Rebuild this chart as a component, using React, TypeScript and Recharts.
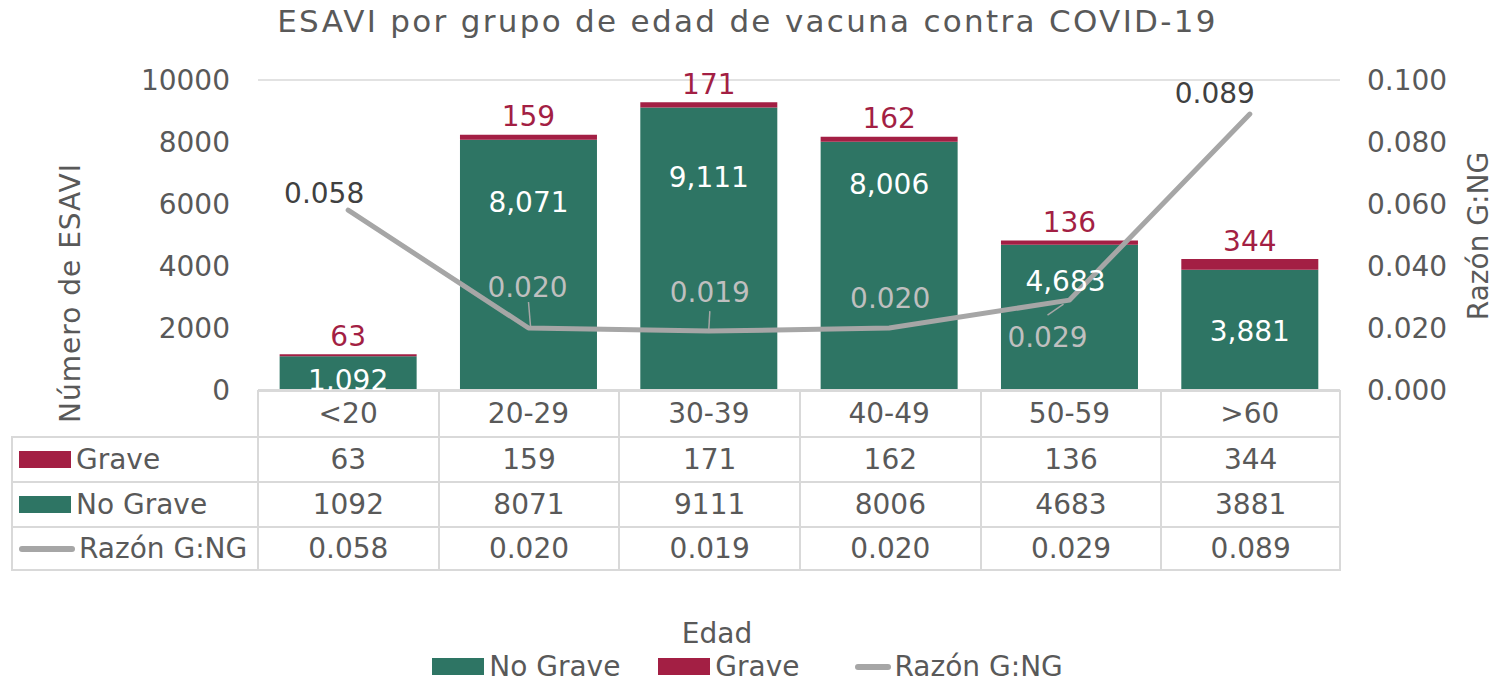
import React from "react";
import {
  ComposedChart, Bar, Line, XAxis, YAxis, CartesianGrid, LabelList,
} from "recharts";

// ── Datos ──────────────────────────────────────────────────────────────────────

const CATEGORIES = ["<20", "20-29", "30-39", "40-49", "50-59", ">60"];
const GRAVE = [63, 159, 171, 162, 136, 344];
const NO_GRAVE = [1092, 8071, 9111, 8006, 4683, 3881];
const RAZON = [0.058, 0.02, 0.019, 0.02, 0.029, 0.089];
const RAZON_TEXT = ["0.058", "0.020", "0.019", "0.020", "0.029", "0.089"];

const Y_TICKS = [0, 2000, 4000, 6000, 8000, 10000];
const Y2_TICKS = [0, 0.02, 0.04, 0.06, 0.08, 0.1];

const data = CATEGORIES.map((cat, i) => ({
  cat,
  grave: GRAVE[i],
  noGrave: NO_GRAVE[i],
  razon: RAZON[i],
}));

// ── Estilos ────────────────────────────────────────────────────────────────────

const FONT = "'DejaVu Sans', sans-serif";
const TEXT = "#595959";
const GREEN = "#2e7564";
const CRIMSON = "#a31f44";
const GRAY = "#a6a6a6";
const GRID = "#d9d9d9";
const FS = 28;

const PLOT_LEFT = 258;
const PLOT_RIGHT = 1340;

// desplazamiento manual de etiquetas (como en el original)
const NG_LABEL_DY = [24, 63, 70, 43, 37, 62];
const NG_LABEL_DX = [0, 0, 0, 0, -4, 0];
const RAZON_LABEL = [
  { dx: -24, dy: -17, dark: true, leader: null },
  { dx: -1, dy: -41, dark: false, leader: [0, -26, 2, -2] },
  { dx: 1, dy: -39, dark: false, leader: [1, -20, 0, -2] },
  { dx: 1, dy: -30, dark: false, leader: null },
  { dx: -22, dy: 37, dark: false, leader: [-22, 15, -6, 4] },
  { dx: -35, dy: -21, dark: true, leader: null },
];

function NoGraveLabel(props: any) {
  const { x, y, width, index, value } = props;
  return (
    <text
      x={x + width / 2 + NG_LABEL_DX[index]}
      y={y + NG_LABEL_DY[index]}
      textAnchor="middle"
      dominantBaseline="central"
      fill="#ffffff"
      fontSize={FS}
      fontFamily={FONT}
    >
      {value.toLocaleString("en-US")}
    </text>
  );
}

function GraveLabel(props: any) {
  const { x, y, width, value } = props;
  return (
    <text
      x={x + width / 2}
      y={y - 18}
      textAnchor="middle"
      dominantBaseline="central"
      fill={CRIMSON}
      fontSize={FS}
      fontFamily={FONT}
    >
      {value}
    </text>
  );
}

function RazonLabel(props: any) {
  const { x, y, index } = props;
  const p = RAZON_LABEL[index];
  return (
    <g>
      {p.leader && (
        <line
          x1={x + p.leader[0]} y1={y + p.leader[1]}
          x2={x + p.leader[2]} y2={y + p.leader[3]}
          stroke={GRAY} strokeWidth={1.5}
        />
      )}
      <text
        x={x + p.dx}
        y={y + p.dy}
        textAnchor="middle"
        dominantBaseline="central"
        fill={p.dark ? "#404040" : "#bfbfbf"}
        fontSize={FS}
        fontFamily={FONT}
      >
        {RAZON_TEXT[index]}
      </text>
    </g>
  );
}

function CatTick(props: any) {
  const { x, y, payload } = props;
  return (
    <text x={x} y={y + 23} textAnchor="middle" dominantBaseline="central"
      fill={TEXT} fontSize={FS} fontFamily={FONT}>
      {payload.value}
    </text>
  );
}

// ── Tabla de datos ─────────────────────────────────────────────────────────────

const BORDER = `2px solid ${GRID}`;

function Swatch({ kind }: { kind: "grave" | "noGrave" | "razon" }) {
  if (kind === "razon") {
    return <span style={{ display: "inline-block", width: 56, height: 6, borderRadius: 3, background: GRAY, marginRight: 4 }} />;
  }
  return (
    <span style={{
      display: "inline-block", width: 52, height: 17, marginRight: 5,
      background: kind === "grave" ? CRIMSON : GREEN,
    }} />
  );
}

function DataTable() {
  const rows: { kind: "grave" | "noGrave" | "razon"; label: string; values: string[] }[] = [
    { kind: "grave", label: "Grave", values: GRAVE.map(String) },
    { kind: "noGrave", label: "No Grave", values: NO_GRAVE.map(String) },
    { kind: "razon", label: "Razón G:NG", values: RAZON_TEXT },
  ];
  const cell = (extra: React.CSSProperties): React.CSSProperties => ({
    boxSizing: "border-box",
    height: 45,
    display: "flex",
    alignItems: "center",
    justifyContent: "center",
    borderTop: BORDER,
    borderLeft: BORDER,
    ...extra,
  });
  return (
    <div style={{
      position: "absolute", left: 11, top: 390, width: PLOT_RIGHT + 1 - 11,
      display: "grid", gridTemplateColumns: `${PLOT_LEFT - 1 - 11}px repeat(6, 1fr)`,
      fontFamily: FONT, fontSize: FS, color: TEXT,
    }}>
      <div style={{ height: 46 }} />
      {CATEGORIES.map((c, i) => (
        <div key={c} style={cell({ height: 46, borderRight: i === 5 ? BORDER : undefined })} />
      ))}
      {rows.map((r, ri) => (
        <React.Fragment key={r.label}>
          <div style={cell({
            justifyContent: "flex-start", paddingLeft: 6, whiteSpace: "nowrap",
            borderBottom: ri === 2 ? BORDER : undefined,
          })}>
            <Swatch kind={r.kind} />
            {r.label}
          </div>
          {r.values.map((v, i) => (
            <div key={i} style={cell({
              borderRight: i === 5 ? BORDER : undefined,
              borderBottom: ri === 2 ? BORDER : undefined,
            })}>{v}</div>
          ))}
        </React.Fragment>
      ))}
    </div>
  );
}

// ── Componente principal ───────────────────────────────────────────────────────

export default function App() {
  return (
    <div style={{ position: "absolute", left: 0, top: 0, width: 1495, height: 683, background: "#fff", overflow: "hidden", fontFamily: FONT }}>
      <div style={{
        position: "absolute", left: 0, width: 1495, top: 3, textAlign: "center",
        fontSize: 31, letterSpacing: 2.3, color: TEXT,
      }}>
        ESAVI por grupo de edad de vacuna contra COVID-19
      </div>

      <div style={{ position: "absolute", left: 0, top: 0 }}>
        <ComposedChart
          width={1495}
          height={683}
          data={data}
          margin={{ top: 80, right: 55, bottom: 247, left: 158 }}
          barCategoryGap="12%"
        >
          <CartesianGrid vertical={false} stroke={GRID} strokeWidth={1.5} />
          <XAxis
            dataKey="cat"
            height={46}
            tickLine={false}
            tickSize={0}
            tickMargin={0}
            axisLine={{ stroke: GRID, strokeWidth: 2 }}
            tick={<CatTick />}
            interval={0}
          />
          <YAxis
            yAxisId="l"
            width={100}
            domain={[0, 10000]}
            ticks={Y_TICKS}
            tickLine={false}
            axisLine={false}
            tickSize={0}
            tickMargin={28}
            tick={{ fill: TEXT, fontSize: FS, fontFamily: FONT }}
            label={{
              value: "Número de ESAVI",
              content: () => (
                <text
                  x={70} y={293}
                  transform="rotate(-90 70 293)"
                  textAnchor="middle" dominantBaseline="central"
                  fill={TEXT} fontSize={FS} fontFamily={FONT} letterSpacing={1}
                >
                  Número de ESAVI
                </text>
              ),
            }}
          />
          <YAxis
            yAxisId="r"
            orientation="right"
            width={100}
            domain={[0, 0.1]}
            ticks={Y2_TICKS}
            tickFormatter={(v: number) => v.toFixed(3)}
            tickLine={false}
            axisLine={false}
            tickSize={0}
            tickMargin={27}
            tick={{ fill: TEXT, fontSize: FS, fontFamily: FONT, textAnchor: "start" }}
            label={{
              value: "Razón G:NG",
              content: () => (
                <text
                  x={1478} y={236}
                  transform="rotate(-90 1478 236)"
                  textAnchor="middle" dominantBaseline="central"
                  fill={TEXT} fontSize={FS} fontFamily={FONT}
                >
                  Razón G:NG
                </text>
              ),
            }}
          />
          <Bar yAxisId="l" dataKey="noGrave" stackId="a" fill={GREEN} isAnimationActive={false}>
            <LabelList dataKey="noGrave" content={<NoGraveLabel />} />
          </Bar>
          <Bar yAxisId="l" dataKey="grave" stackId="a" fill={CRIMSON} isAnimationActive={false}>
            <LabelList dataKey="grave" content={<GraveLabel />} />
          </Bar>
          <Line
            yAxisId="r"
            dataKey="razon"
            stroke={GRAY}
            strokeWidth={5}
            dot={false}
            activeDot={false}
            strokeLinecap="round"
            strokeLinejoin="round"
            isAnimationActive={false}
          >
            <LabelList dataKey="razon" content={<RazonLabel />} />
          </Line>
        </ComposedChart>
      </div>

      <DataTable />

      {/* título eje X */}
      <div style={{ position: "absolute", left: 617, width: 200, top: 617, textAlign: "center", fontSize: FS, color: TEXT }}>
        Edad
      </div>

      {/* leyenda */}
      <div style={{
        position: "absolute", left: 0, width: 1495, top: 650, display: "flex",
        justifyContent: "center", alignItems: "center", fontSize: FS, color: TEXT,
      }}>
        <span style={{ display: "inline-block", width: 52, height: 17, background: GREEN, marginRight: 5 }} />
        <span style={{ marginRight: 38 }}>No Grave</span>
        <span style={{ display: "inline-block", width: 52, height: 17, background: CRIMSON, marginRight: 5 }} />
        <span style={{ marginRight: 55 }}>Grave</span>
        <span style={{ display: "inline-block", width: 36, height: 6, borderRadius: 3, background: GRAY, marginRight: 4 }} />
        <span>Razón G:NG</span>
      </div>
    </div>
  );
}
